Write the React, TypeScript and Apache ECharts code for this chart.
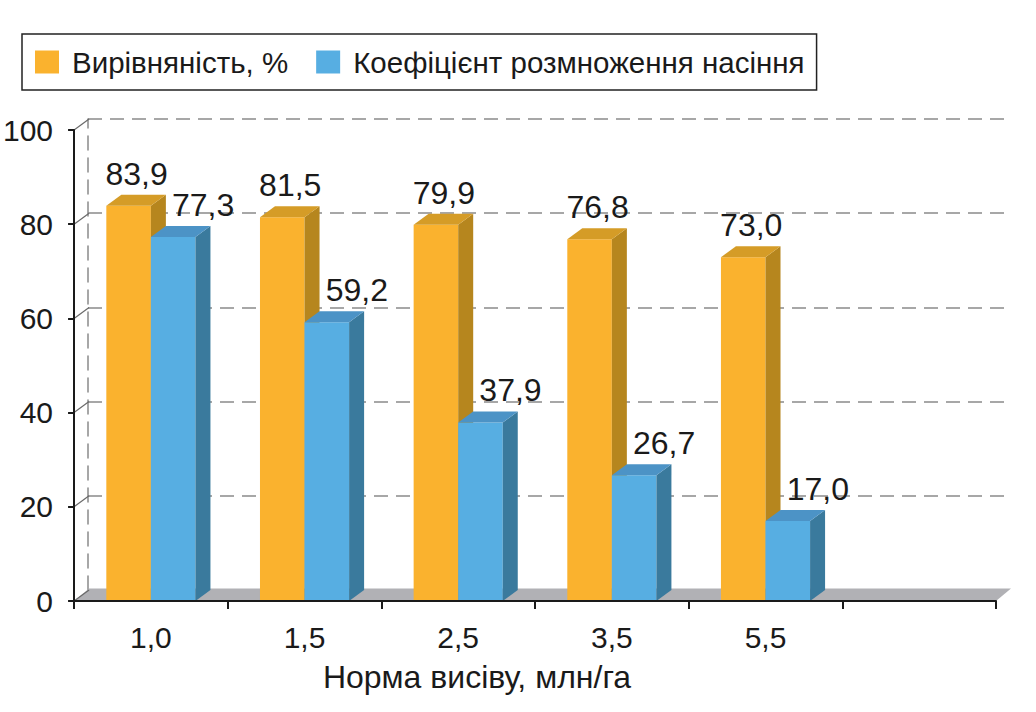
import React, { useEffect, useRef } from "react";
import * as echarts from "echarts";

const categories = ["1,0", "1,5", "2,5", "3,5", "5,5", ""];
const uniformity = [83.9, 81.5, 79.9, 76.8, 73.0];
const multiplication = [77.3, 59.2, 37.9, 26.7, 17.0];
const yTicks = [0, 20, 40, 60, 80, 100];
const seriesNames = ["Вирівняність, %", "Коефіцієнт розмноження насіння"];
const axisName = "Норма висіву, млн/га";

const FONT = "Liberation Sans";
const DX = 15;
const DY = 11;

const palettes = [
  { front: "#FAB22E", side: "#B6861E", top: "#D59C27", labelShift: 8 },
  { front: "#57AEE2", side: "#3A7A9D", top: "#4C93C6", labelShift: 30 },
];

function fmt(v: number) {
  return v.toFixed(1).replace(".", ",");
}

function makeBarSeries(si: number, values: number[]) {
  const pal = palettes[si];
  return {
    type: "custom",
    name: seriesNames[si],
    xAxisIndex: 0,
    yAxisIndex: 0,
    z: 5 + si,
    itemStyle: { color: pal.front },
    data: values.map((v, i) => [i, v]),
    encode: { x: 0, y: 1 },
    renderItem: (params: any, api: any) => {
      const idx = api.value(0);
      const val = api.value(1);
      const base = api.coord([idx, 0]);
      const top = api.coord([idx, val]);
      const band = api.size([1, 0])[0];
      const bw = band * 0.29;
      const x0 = base[0] + (si === 0 ? -bw : 0);
      const yb = base[1];
      const yt = top[1];
      return {
        type: "group",
        children: [
          {
            type: "rect",
            shape: { x: x0, y: yt, width: bw, height: yb - yt },
            style: { fill: pal.front },
          },
          {
            type: "polygon",
            shape: {
              points: [
                [x0 + bw, yt],
                [x0 + bw + DX, yt - DY],
                [x0 + bw + DX, yb - DY],
                [x0 + bw, yb],
              ],
            },
            style: { fill: pal.side },
          },
          {
            type: "polygon",
            shape: {
              points: [
                [x0, yt],
                [x0 + DX, yt - DY],
                [x0 + bw + DX, yt - DY],
                [x0 + bw, yt],
              ],
            },
            style: { fill: pal.top },
          },
          {
            type: "text",
            x: x0 + bw / 2 + pal.labelShift,
            y: yt - DY - 5,
            style: {
              text: fmt(val),
              fill: "#1a1a1a",
              font: `32px "${FONT}"`,
              align: "center",
              verticalAlign: "bottom",
            },
          },
        ],
      };
    },
  };
}

export default function App() {
  const ref = useRef<HTMLDivElement>(null);

  useEffect(() => {
    if (!ref.current) return;
    const chart = echarts.init(ref.current, undefined, { renderer: "svg" });
    const option: any = {
      animation: false,
      backgroundColor: "#ffffff",
      textStyle: { fontFamily: FONT, color: "#1a1a1a" },
      legend: {
        left: 22,
        top: 34,
        orient: "horizontal",
        data: seriesNames,
        icon: "rect",
        itemWidth: 24,
        itemHeight: 23,
        itemGap: 28,
        borderColor: "#222",
        borderWidth: 1.5,
        borderRadius: 0,
        padding: [13, 12, 13, 13],
        textStyle: {
          fontFamily: FONT,
          fontSize: 29.5,
          color: "#1a1a1a",
          padding: [0, 0, 0, 8],
        },
      },
      grid: [
        { left: 73, right: 40, top: 130, bottom: 111, containLabel: false },
        { left: 88, right: 26, top: 119, bottom: 122, containLabel: false },
      ],
      xAxis: [
        {
          type: "category",
          gridIndex: 0,
          data: categories,
          z: 10,
          axisLine: { show: true, lineStyle: { color: "#1a1a1a", width: 2 } },
          axisTick: {
            show: true,
            length: 8,
            interval: 0,
            alignWithLabel: false,
            lineStyle: { color: "#1a1a1a", width: 2 },
          },
          axisLabel: {
            interval: 0,
            fontFamily: FONT,
            fontSize: 30,
            color: "#1a1a1a",
            margin: 21,
          },
          name: axisName,
          nameLocation: "middle",
          nameGap: 60,
          nameTextStyle: {
            fontFamily: FONT,
            fontSize: 32,
            color: "#1a1a1a",
            padding: [0, 116, 0, 0],
          },
          splitLine: { show: false },
        },
        {
          type: "category",
          gridIndex: 1,
          data: categories,
          show: false,
        },
      ],
      yAxis: [
        {
          type: "value",
          gridIndex: 0,
          min: 0,
          max: 100,
          interval: 20,
          z: 10,
          axisLine: { show: true, lineStyle: { color: "#1a1a1a", width: 2 } },
          axisTick: {
            show: true,
            length: 6,
            lineStyle: { color: "#1a1a1a", width: 2 },
          },
          axisLabel: {
            fontFamily: FONT,
            fontSize: 30,
            color: "#1a1a1a",
            margin: 21,
          },
          splitLine: { show: false },
        },
        {
          type: "value",
          gridIndex: 1,
          min: 0,
          max: 100,
          interval: 20,
          axisLine: {
            show: true,
            lineStyle: { color: "#8a8a8a", width: 1.5, type: [14, 8] },
          },
          axisTick: { show: false },
          axisLabel: { show: false },
          splitLine: {
            show: true,
            lineStyle: { color: "#8a8a8a", width: 1.5, type: [14, 8] },
          },
        },
      ],
      series: [
        {
          type: "custom",
          name: "floor",
          xAxisIndex: 0,
          yAxisIndex: 0,
          z: 2,
          silent: true,
          data: [[0, 0]],
          renderItem: (params: any, api: any) => {
            const cs = params.coordSys;
            const yb = api.coord([0, 0])[1];
            const xl = cs.x;
            const xr = cs.x + cs.width;
            return {
              type: "polygon",
              shape: {
                points: [
                  [xl, yb],
                  [xl + DX, yb - DY - 1.5],
                  [xr + DX, yb - DY - 1.5],
                  [xr, yb],
                ],
              },
              style: { fill: "#B1B1B5" },
            };
          },
        },
        {
          type: "custom",
          name: "connectors",
          xAxisIndex: 0,
          yAxisIndex: 0,
          z: 3,
          silent: true,
          data: yTicks.map((t) => [0, t]),
          renderItem: (params: any, api: any) => {
            const cs = params.coordSys;
            const y = api.coord([0, api.value(1)])[1];
            return {
              type: "line",
              shape: { x1: cs.x, y1: y, x2: cs.x + DX, y2: y - DY },
              style: { stroke: "#6a6a6a", lineWidth: 1.2 },
            };
          },
        },
        makeBarSeries(0, uniformity),
        makeBarSeries(1, multiplication),
      ],
    };
    chart.setOption(option);
    return () => chart.dispose();
  }, []);

  return (
    <div
      ref={ref}
      style={{ width: 1036, height: 712, position: "absolute", left: 0, top: 0 }}
    />
  );
}
